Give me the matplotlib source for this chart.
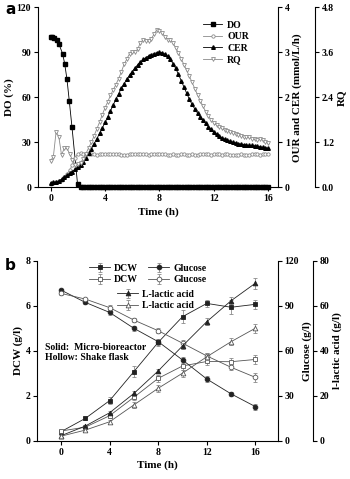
import matplotlib
matplotlib.use('Agg')
import matplotlib.pyplot as plt
import numpy as np

plt.rcParams['font.family'] = 'Liberation Serif'
plt.rcParams['font.weight'] = 'bold'
plt.rcParams['font.size'] = 7

# ---------------- panel a data ----------------
t_a = np.round(np.arange(81) * 0.2, 1)

do_t = [0, 0.12, 0.27, 0.44, 0.61, 0.88, 1.03, 1.2, 1.37, 1.57, 1.98]
do_v = [100.5, 100, 99.5, 98, 95.5, 89, 82.5, 72, 57.5, 40, 2]
do_tail_t = np.round(np.arange(11, 81) * 0.2, 1)
do_tail_v = [0.0] * 70

cer = [0.10, 0.11, 0.12, 0.14, 0.18, 0.23, 0.27, 0.31, 0.35, 0.40,
       0.45, 0.50, 0.57, 0.66, 0.76, 0.86, 0.97, 1.08, 1.20, 1.32,
       1.44, 1.57, 1.70, 1.83, 1.96, 2.08, 2.20, 2.30, 2.40, 2.49,
       2.57, 2.65, 2.72, 2.78, 2.84, 2.88, 2.92, 2.95, 2.97, 2.99,
       3.00, 2.99, 2.96, 2.91, 2.84, 2.75, 2.64, 2.51, 2.37, 2.23,
       2.09, 1.96, 1.84, 1.74, 1.65, 1.57, 1.49, 1.42, 1.35, 1.29,
       1.23, 1.18, 1.14, 1.10, 1.07, 1.04, 1.02, 1.00, 0.99, 0.97,
       0.96, 0.95, 0.94, 0.93, 0.93, 0.92, 0.91, 0.90, 0.89, 0.88,
       0.87]

our = [0.08, 0.10, 0.11, 0.13, 0.17, 0.22, 0.30, 0.38, 0.50, 0.66,
       0.74, 0.76, 0.75, 0.74, 0.73, 0.74, 0.73, 0.72, 0.73, 0.74,
       0.75, 0.74, 0.73, 0.74, 0.75, 0.74, 0.72, 0.71, 0.72, 0.74,
       0.74, 0.73, 0.74, 0.75, 0.74, 0.73, 0.72, 0.73, 0.74, 0.75,
       0.74, 0.73, 0.73, 0.72, 0.72, 0.73, 0.72, 0.72, 0.73, 0.73,
       0.72, 0.72, 0.73, 0.72, 0.72, 0.73, 0.74, 0.73, 0.73, 0.72,
       0.73, 0.74, 0.73, 0.72, 0.73, 0.73, 0.72, 0.71, 0.72, 0.72,
       0.73, 0.72, 0.71, 0.72, 0.73, 0.74, 0.73, 0.72, 0.73, 0.74,
       0.74]

rq = [0.71, 0.82, 1.48, 1.35, 0.86, 1.04, 1.04, 0.89, 0.73, 0.60,
      0.62, 0.66, 0.76, 0.90, 1.06, 1.20, 1.38, 1.56, 1.74, 1.94,
      2.12, 2.28, 2.45, 2.60, 2.74, 2.90, 3.08, 3.28, 3.42, 3.56,
      3.60, 3.62, 3.68, 3.86, 3.93, 3.91, 3.90, 3.96, 4.08, 4.20,
      4.18, 4.12, 4.02, 3.94, 3.92, 3.85, 3.72, 3.58, 3.43, 3.27,
      3.12, 2.96, 2.80, 2.63, 2.47, 2.31, 2.16, 2.02, 1.90, 1.80,
      1.72, 1.66, 1.61, 1.57, 1.53, 1.50, 1.47, 1.45, 1.43, 1.40,
      1.37, 1.35, 1.34, 1.33, 1.30, 1.28, 1.26, 1.28, 1.26, 1.22,
      1.17]

# ---------------- panel b data ----------------
t_b = [0, 2, 4, 6, 8, 10, 12, 14, 16]
dcw_mbr = [0.40, 0.99, 1.78, 3.07, 4.37, 5.51, 6.10, 5.93, 6.06]
dcw_mbr_err = [0.05, 0.06, 0.15, 0.25, 0.15, 0.30, 0.15, 0.30, 0.20]
dcw_sf = [0.43, 0.60, 1.11, 1.93, 2.77, 3.32, 3.52, 3.51, 3.61]
dcw_sf_err = [0.05, 0.05, 0.10, 0.12, 0.15, 0.20, 0.15, 0.15, 0.20]
glu_mbr = [100.4, 92.2, 85.5, 74.9, 66.0, 53.8, 41.1, 31.2, 22.7]
glu_mbr_err = [1.0, 1.0, 2.0, 1.5, 2.0, 2.0, 2.0, 1.5, 2.0]
glu_sf = [98.2, 94.4, 88.7, 80.4, 73.3, 65.0, 56.5, 48.9, 42.2]
glu_sf_err = [1.0, 1.0, 1.5, 1.5, 1.5, 2.0, 2.0, 2.0, 3.0]
la_mbr = [2.2, 6.5, 12.4, 21.0, 31.0, 42.1, 52.9, 62.2, 70.0]
la_mbr_err = [0.5, 0.5, 1.0, 1.0, 1.0, 1.5, 1.5, 1.5, 2.5]
la_sf = [2.0, 4.7, 8.4, 15.9, 23.3, 30.0, 37.3, 44.0, 50.0]
la_sf_err = [0.5, 0.5, 1.0, 1.5, 1.5, 1.5, 1.5, 1.5, 2.0]

fig = plt.figure(figsize=(3.5, 4.79), dpi=100)


def style(ax, spines):
    for s in ['top', 'bottom', 'left', 'right']:
        ax.spines[s].set_visible(s in spines)
        ax.spines[s].set_linewidth(0.8)
    ax.tick_params(direction='out', length=3, width=0.8, labelsize=7, pad=2)


gray = '#8a8a8a'

# ---------------- panel a ----------------
ax1 = fig.add_axes([0.1086, 0.609, 0.6857, 0.3758])
ax2 = ax1.twinx()
ax3 = ax1.twinx()
ax3.spines['right'].set_position(('axes', 1.154))
style(ax1, ['left', 'bottom'])
style(ax2, ['right'])
style(ax3, ['right'])

l_do, = ax1.plot(do_t, do_v, '-s', color='black', lw=0.6, ms=2.4, label='DO', clip_on=False, zorder=5)
ax1.plot(do_tail_t, do_tail_v, '-s', color='black', lw=0.6, ms=2.2, clip_on=False, zorder=5)
l_our, = ax2.plot(t_a, our, '-o', color=gray, mfc='white', mec=gray, lw=0.6, ms=2.4, mew=0.6, label='OUR')
l_cer, = ax2.plot(t_a, cer, '-^', color='black', lw=0.6, ms=2.6, label='CER')
l_rq, = ax3.plot(t_a, rq, '-v', color=gray, mfc='white', mec=gray, lw=0.6, ms=2.8, mew=0.6, label='RQ')

ax1.set_xlim(-0.93, 16.72)
ax1.set_ylim(0, 120)
ax2.set_ylim(0, 4)
ax3.set_ylim(0, 4.8)
ax1.set_xticks([0, 4, 8, 12, 16])
ax1.set_yticks([0, 30, 60, 90, 120])
ax2.set_yticks([0, 1, 2, 3, 4])
ax3.set_yticks([0, 1.2, 2.4, 3.6, 4.8])
ax3.set_yticklabels(['0.0', '1.2', '2.4', '3.6', '4.8'])
ax1.set_xlabel('Time (h)', fontsize=8, fontweight='bold', labelpad=3)
ax1.set_ylabel('DO (%)', fontsize=8, fontweight='bold', labelpad=2)
ax2.set_ylabel('OUR and CER (mmol/L/h)', fontsize=8, fontweight='bold', labelpad=2)
ax3.set_ylabel('RQ', fontsize=8, fontweight='bold', labelpad=2)

fig.legend(handles=[l_do, l_our, l_cer, l_rq], loc='upper left',
           bbox_to_anchor=(198 / 350, 1 - 16 / 479), frameon=False,
           handlelength=2.0, handletextpad=0.5, labelspacing=0.25,
           borderpad=0, prop={'weight': 'bold', 'size': 7})

fig.text(5 / 350, 1 - 10 / 479, 'a', fontsize=11, fontweight='bold',
         family='DejaVu Sans', va='center', ha='left')

# ---------------- panel b ----------------
bx1 = fig.add_axes([0.1066, 0.080, 0.687, 0.3758])
bx2 = bx1.twinx()
bx3 = bx1.twinx()
bx3.spines['right'].set_position(('axes', 1.147))
style(bx1, ['left', 'bottom'])
style(bx2, ['right'])
style(bx3, ['right'])

dark = '#222222'
mid = '#555555'
ekw = dict(lw=0.6, ms=3.4, capsize=1.5, elinewidth=0.6, capthick=0.6, mew=0.6)
h1 = bx1.errorbar(t_b, dcw_mbr, yerr=dcw_mbr_err, fmt='-s', color=dark, ecolor=gray, label='DCW', **ekw)
h2 = bx1.errorbar(t_b, dcw_sf, yerr=dcw_sf_err, fmt='-s', color=mid, mfc='white', mec=mid, ecolor=gray, label='DCW', **ekw)
h3 = bx2.errorbar(t_b, glu_mbr, yerr=glu_mbr_err, fmt='-o', color=dark, ecolor=gray, label='Glucose', **ekw)
h4 = bx2.errorbar(t_b, glu_sf, yerr=glu_sf_err, fmt='-o', color=mid, mfc='white', mec=mid, ecolor=gray, label='Glucose', **ekw)
h5 = bx3.errorbar(t_b, la_mbr, yerr=la_mbr_err, fmt='-^', color=dark, ecolor=gray, label='L-lactic acid', **ekw)
h6 = bx3.errorbar(t_b, la_sf, yerr=la_sf_err, fmt='-^', color=mid, mfc='white', mec=mid, ecolor=gray, label='L-lactic acid', **ekw)

bx1.set_xlim(-1.95, 17.84)
bx1.set_ylim(0, 8)
bx2.set_ylim(0, 120)
bx3.set_ylim(0, 80)
bx1.set_xticks([0, 4, 8, 12, 16])
bx1.set_yticks([0, 2, 4, 6, 8])
bx2.set_yticks([0, 30, 60, 90, 120])
bx3.set_yticks([0, 20, 40, 60, 80])
bx1.set_xlabel('Time (h)', fontsize=8, fontweight='bold', labelpad=3)
bx1.set_ylabel('DCW (g/l)', fontsize=8, fontweight='bold', labelpad=2)
bx2.set_ylabel('Glucose (g/l)', fontsize=8, fontweight='bold', labelpad=2)
bx3.set_ylabel('l-lactic acid (g/l)', fontsize=8, fontweight='bold', labelpad=2)

fig.legend(handles=[h1, h2, h3, h4], ncol=2, loc='upper left',
           bbox_to_anchor=(84 / 350, 1 - 259 / 479), frameon=False,
           handlelength=2.2, handletextpad=0.4, labelspacing=0.25,
           columnspacing=1.0, borderpad=0, prop={'weight': 'bold', 'size': 7})
fig.legend(handles=[h5, h6], loc='upper left',
           bbox_to_anchor=(112 / 350, 1 - 285 / 479), frameon=False,
           handlelength=2.2, handletextpad=0.4, labelspacing=0.25,
           borderpad=0, prop={'weight': 'bold', 'size': 7})

bx1.text(-1.3, 4.16, 'Solid:  Micro-bioreactor', fontsize=7, fontweight='bold', va='center')
bx1.text(-1.3, 3.68, 'Hollow: Shake flask', fontsize=7, fontweight='bold', va='center')

fig.text(5 / 350, 1 - 265 / 479, 'b', fontsize=11, fontweight='bold',
         family='DejaVu Sans', va='center', ha='left')

fig.savefig('out.png', dpi=100)
